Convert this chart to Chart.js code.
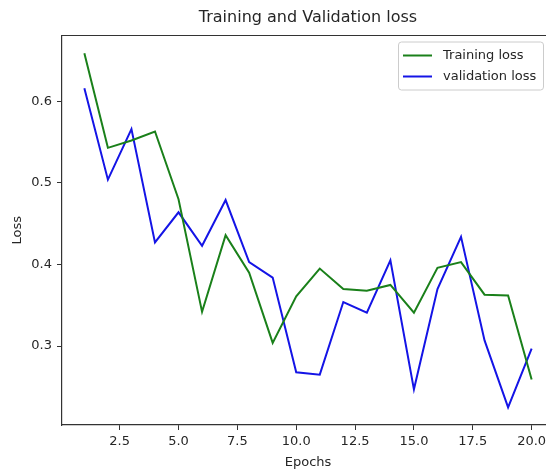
<!DOCTYPE html>
<html>
<head>
<meta charset="utf-8">
<script src="https://cdn.jsdelivr.net/npm/chart.js@4/dist/chart.umd.min.js"></script>
<style>
  html, body { margin: 0; padding: 0; overflow: hidden; background: #fff; }
  canvas { display: block; }
</style>
</head>
<body>
<canvas id="c" width="556" height="470"></canvas>
<script>
// Per-epoch losses
const epochs = [1, 2, 3, 4, 5, 6, 7, 8, 9, 10, 11, 12, 13, 14, 15, 16, 17, 18, 19, 20];
const trainingLoss = [0.659, 0.543, 0.552, 0.563, 0.480, 0.342, 0.436, 0.390, 0.304, 0.361,
                      0.395, 0.370, 0.368, 0.375, 0.341, 0.396, 0.403, 0.363, 0.362, 0.259];
const validationLoss = [0.616, 0.504, 0.566, 0.427, 0.464, 0.423, 0.479, 0.403, 0.384, 0.268,
                        0.265, 0.354, 0.341, 0.405, 0.247, 0.370, 0.434, 0.307, 0.225, 0.297];

// Axis ticks
const xTicks = [2.5, 5.0, 7.5, 10.0, 12.5, 15.0, 17.5, 20.0];
const yTicks = [0.3, 0.4, 0.5, 0.6];

const FONT = 'DejaVu Sans';
const INK = '#262626';
const SPINE = '#333333';

// Axis limits with a 5% margin around the data
const xPad = (Math.max(...epochs) - Math.min(...epochs)) * 0.05;
const allLoss = trainingLoss.concat(validationLoss);
const yLo = Math.min(...allLoss), yHi = Math.max(...allLoss);
const yPad = (yHi - yLo) * 0.05;

// Top spine of the axes frame
const frame = {
  id: 'frame',
  afterDraw(chart) {
    const { ctx, chartArea: a } = chart;
    ctx.save();
    ctx.strokeStyle = SPINE;
    ctx.lineWidth = 1.2;
    ctx.beginPath();
    ctx.moveTo(a.left, a.top);
    ctx.lineTo(a.right, a.top);
    ctx.stroke();
    ctx.restore();
  }
};

// Boxed legend in the upper right corner of the axes
const boxLegend = {
  id: 'boxLegend',
  afterDatasetsDraw(chart) {
    const { ctx, chartArea: a } = chart;
    const w = 145, h = 48;
    const x = a.right - 11 - w, y = a.top + 6;
    ctx.save();
    ctx.fillStyle = 'rgba(255,255,255,0.8)';
    ctx.strokeStyle = '#cccccc';
    ctx.lineWidth = 1;
    ctx.beginPath();
    ctx.roundRect(x + 0.5, y + 0.5, w, h, 3);
    ctx.fill();
    ctx.stroke();
    ctx.font = '13px "' + FONT + '"';
    ctx.textBaseline = 'middle';
    chart.data.datasets.forEach((ds, i) => {
      const ry = y + 14 + i * 21;
      ctx.strokeStyle = ds.borderColor;
      ctx.lineWidth = 2;
      ctx.beginPath();
      ctx.moveTo(x + 5, ry);
      ctx.lineTo(x + 34, ry);
      ctx.stroke();
      ctx.fillStyle = INK;
      ctx.fillText(ds.label, x + 45, ry);
    });
    ctx.restore();
  }
};

new Chart(document.getElementById('c'), {
  type: 'line',
  data: {
    datasets: [
      {
        label: 'Training loss',
        data: epochs.map((e, i) => ({ x: e, y: trainingLoss[i] })),
        borderColor: '#1a801a',
        borderWidth: 2,
        pointRadius: 0,
        tension: 0,
        fill: false
      },
      {
        label: 'validation loss',
        data: epochs.map((e, i) => ({ x: e, y: validationLoss[i] })),
        borderColor: '#1414e6',
        borderWidth: 2,
        pointRadius: 0,
        tension: 0,
        fill: false
      }
    ]
  },
  options: {
    responsive: false,
    animation: false,
    devicePixelRatio: 1,
    layout: { padding: { left: 0, right: 2, top: 0.3, bottom: 0 } },
    plugins: {
      legend: { display: false },
      tooltip: { enabled: false },
      title: {
        display: true,
        fullSize: false,
        text: 'Training and Validation loss',
        color: INK,
        font: { family: FONT, size: 16, weight: 'normal' },
        padding: { top: 8, bottom: 8 }
      }
    },
    scales: {
      x: {
        type: 'linear',
        min: Math.min(...epochs) - xPad,
        max: Math.max(...epochs) + xPad,
        afterBuildTicks: s => { s.ticks = xTicks.map(v => ({ value: v })); },
        afterFit: s => { s.height = 45; },
        ticks: {
          color: INK,
          font: { family: FONT, size: 13 },
          padding: 4,
          maxRotation: 0,
          autoSkip: false,
          callback: v => Number(v).toFixed(1)
        },
        grid: { drawOnChartArea: false, drawTicks: true, tickLength: 5, tickColor: SPINE, tickWidth: 1 },
        border: { display: true, color: SPINE, width: 1.2 },
        title: {
          display: true,
          text: 'Epochs',
          color: INK,
          font: { family: FONT, size: 13 },
          padding: { top: 0, bottom: 0 }
        }
      },
      y: {
        type: 'linear',
        min: yLo - yPad,
        max: yHi + yPad,
        afterBuildTicks: s => { s.ticks = yTicks.map(v => ({ value: v })); },
        afterFit: s => { s.width = 62; },
        ticks: {
          color: INK,
          font: { family: FONT, size: 13 },
          padding: 5,
          autoSkip: false,
          callback: v => Number(v).toFixed(1)
        },
        grid: { drawOnChartArea: false, drawTicks: true, tickLength: 5, tickColor: SPINE, tickWidth: 1 },
        border: { display: true, color: SPINE, width: 1.2 },
        title: {
          display: true,
          text: 'Loss',
          color: INK,
          font: { family: FONT, size: 13 },
          padding: { top: 10, bottom: 0 }
        }
      }
    }
  },
  plugins: [frame, boxLegend]
});
</script>
</body>
</html>
